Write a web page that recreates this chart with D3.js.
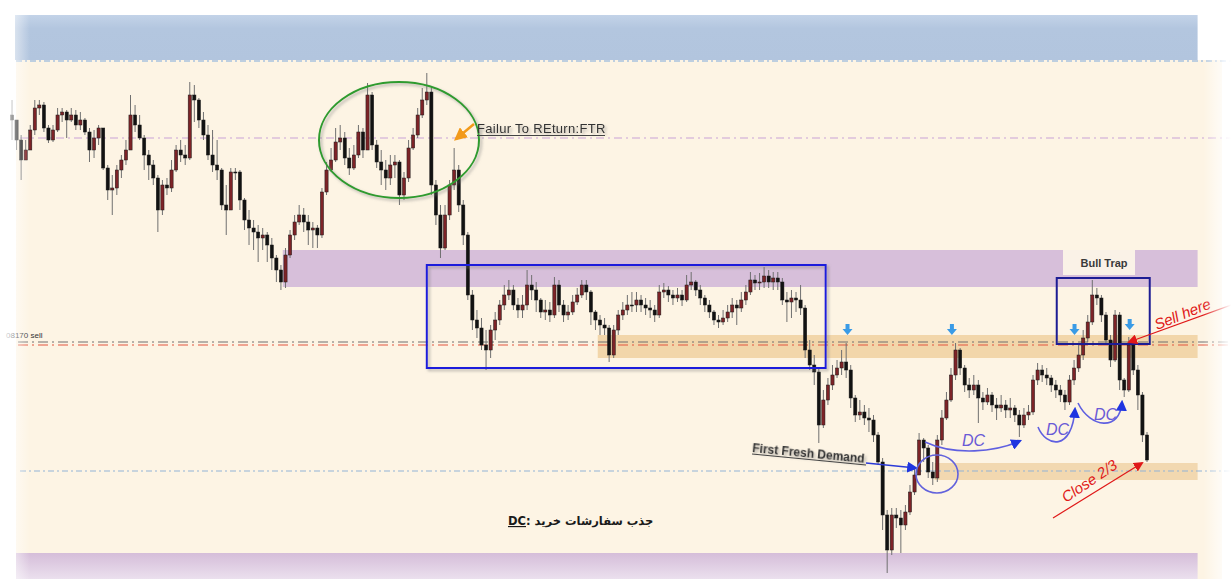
<!DOCTYPE html>
<html><head><meta charset="utf-8">
<script src="https://cdn.jsdelivr.net/npm/d3@7"></script>
<style>body{margin:0;background:#fff}svg{display:block}</style>
</head><body><svg id="c" width="1231" height="579"></svg>
<script>
// Prices are in points above 1.0000 (e.g. 817 = 1.0817)
const firstOpen = 1045;
const closes = [1040,1020,1000,1010,1030,1052,1055,1032,1020,1030,
1045,1048,1040,1045,1035,1040,1028,1010,1022,1032,
992,970,972,990,1000,1010,1045,1035,1022,1005,
995,982,950,975,972,990,1010,1005,1002,1065,
1060,1040,1025,1005,995,990,955,950,988,988,
960,940,932,928,922,925,915,902,890,878,
905,925,938,945,938,930,932,925,968,990,
1000,1018,1022,1002,992,1005,1028,1010,1065,1015,
998,990,982,995,998,965,982,1012,1025,1045,
1060,1068,975,945,912,945,975,990,955,925,
865,840,832,815,810,830,840,855,865,870,
855,850,855,875,870,860,848,850,845,875,
855,845,848,858,865,875,868,848,840,835,
832,805,830,845,850,855,855,860,855,852,
850,845,868,870,865,862,865,860,875,878,
870,862,855,848,840,838,842,848,855,852,
860,868,880,877,878,884,878,882,878,860,
858,862,860,852,810,795,788,735,760,775,
785,792,798,790,762,745,748,742,740,725,
698,645,610,645,642,635,648,668,685,720,
712,688,682,720,742,760,785,810,792,775,
770,775,762,758,765,755,752,755,750,752,
745,735,745,748,780,790,785,782,775,770,
765,758,780,792,805,822,838,865,862,845,
820,800,845,780,770,815,790,765,725,700];
const highs = [1060,1040,1025,1020,1035,1060,1060,1058,1035,1035,
1052,1052,1050,1052,1050,1048,1042,1032,1030,1035,
1032,995,985,995,1005,1020,1065,1055,1045,1025,
1010,1000,985,980,982,1000,1015,1020,1015,1078,
1075,1062,1048,1035,1030,1020,992,975,992,992,
990,962,950,940,935,932,928,922,905,895,
912,930,945,955,952,945,938,935,972,998,
1012,1032,1035,1028,1012,1015,1035,1032,1077,1068,
1020,1010,1000,1005,1005,1000,988,1020,1032,1052,
1072,1087,1072,980,955,955,980,1012,995,960,
928,870,850,842,830,835,848,860,875,880,
875,862,865,890,885,878,862,860,858,883,
880,860,855,865,872,880,880,870,850,845,
842,835,835,850,858,865,868,868,865,862,
860,855,875,877,874,870,872,870,885,888,
880,875,865,860,850,845,850,855,862,860,
868,875,888,885,887,893,890,888,888,882,
868,870,868,875,855,820,805,792,770,782,
795,800,810,817,795,765,760,755,752,745,
728,702,650,652,652,650,655,675,692,727,
722,715,698,725,750,768,792,817,812,795,
782,785,780,768,772,768,762,765,760,762,
755,750,752,755,785,797,795,792,785,780,
775,770,785,800,815,830,845,880,872,865,
848,825,850,848,782,823,818,795,768,728];
const lows = [1020,1010,980,1000,1010,1025,1045,1028,1017,1018,
1028,1038,1022,1038,1030,1030,1025,998,1002,1015,
990,960,945,965,982,995,1010,1028,1020,990,
980,975,928,945,965,968,988,998,995,1000,
1038,1032,1020,1000,988,980,950,925,950,980,
950,930,915,910,898,910,898,890,878,870,
872,902,920,935,928,915,912,912,922,965,
988,998,1010,995,985,990,1002,1002,1010,1010,
992,975,970,975,982,955,960,978,1010,1022,
1042,1055,965,935,902,910,940,970,948,915,
860,830,822,810,790,802,820,835,850,860,
850,842,842,850,860,848,842,840,838,842,
848,838,840,845,855,862,860,835,830,825,
825,798,802,825,840,845,848,848,848,845,
842,838,842,862,858,855,858,854,858,870,
864,855,848,842,835,832,835,838,842,835,
848,855,865,870,870,872,872,870,870,855,
838,842,848,845,802,790,775,717,732,755,
770,782,785,782,752,738,740,735,728,718,
695,630,587,605,632,607,630,645,665,685,
698,682,675,678,715,740,758,780,785,768,
762,765,737,750,755,748,740,748,742,742,
738,723,732,740,745,775,778,775,768,762,
758,750,755,775,788,800,818,835,855,838,
815,793,798,770,763,768,785,750,718,698];

// levels (price points) and extents (candle index units)
const blueBand = [1100, 1145];
const bottomBand = [581, 607];
const supplyZone = [873, 910];
const sellZone = [802, 825];
const demandZone = [680, 697];
const zoneStarts = [59.4, 128.5, 202.4];
const zoneEnd = 260.1;
const ftrLevel = 1022;
const ftrSpan = [52.2, 119.7];
const sellLevels = [818, 815];
const infoLevels = [1099, 689];
const rangeBox = [91, 178.5, 792, 895];
const trapBox = [229.2, 249.6, 816, 882];
const markIndex = [183.3, 206.2, 233.1, 245.2];
const markPrice = [830, 830, 830, 835];
const texts = {
  ftr: "Failur To REturn:FTR",
  trap: "Bull Trap",
  sell: "Sell here",
  close: "Close 2/3",
  demand: "First Fresh Demand",
  dc: "DC",
  note: "جذب سفارشات خرید",
  level: "08170 sell"
};

const svg = d3.select("#c");
const W = 1231, H = 579;
const x = d3.scaleLinear().domain([0, closes.length - 1]).range([12, 1147]);
const y = d3.scaleLinear().domain([581, 1160]).range([579, 0]);

const defs = svg.append("defs");
const sh = defs.append("filter").attr("id","sh").attr("x","-20%").attr("y","-20%").attr("width","140%").attr("height","160%");
sh.append("feDropShadow").attr("dx",2).attr("dy",2).attr("stdDeviation",1.5).attr("flood-color","#777").attr("flood-opacity",0.55);
function marker(id, color, size){
  defs.append("marker").attr("id",id).attr("viewBox","0 0 10 10").attr("refX",8).attr("refY",5)
    .attr("markerWidth",size).attr("markerHeight",size).attr("orient","auto").attr("markerUnits","userSpaceOnUse")
    .append("path").attr("d","M0,0 L10,5 L0,10 z").attr("fill",color);
}
marker("mBlue","#1f35e0",11);
marker("mRed","#e01818",10);
marker("mOrange","#f29a1a",13);
const lg = defs.append("linearGradient").attr("id","fadeL").attr("x1",0).attr("x2",1);
lg.append("stop").attr("offset",0).attr("stop-color","#fff").attr("stop-opacity",1);
lg.append("stop").attr("offset",1).attr("stop-color","#fff").attr("stop-opacity",0);
const rg = defs.append("linearGradient").attr("id","fadeR").attr("x1",0).attr("x2",1);
rg.append("stop").attr("offset",0).attr("stop-color","#fff").attr("stop-opacity",0);
rg.append("stop").attr("offset",1).attr("stop-color","#fff").attr("stop-opacity",1);
const bg = defs.append("linearGradient").attr("id","botG").attr("x1",0).attr("x2",0).attr("y1",0).attr("y2",1);
bg.append("stop").attr("offset",0).attr("stop-color","#d5bdd9");
bg.append("stop").attr("offset",1).attr("stop-color","#ebe0ee");
const tg = defs.append("linearGradient").attr("id","topG").attr("x1",0).attr("x2",0).attr("y1",0).attr("y2",1);
tg.append("stop").attr("offset",0).attr("stop-color","#c3d3e8");
tg.append("stop").attr("offset",0.3).attr("stop-color","#b3c6df");
tg.append("stop").attr("offset",1).attr("stop-color","#b2c5de");

// background
svg.append("rect").attr("width",W).attr("height",H).attr("fill","#fff");
svg.append("rect").attr("x",16).attr("y",y(blueBand[0])).attr("width",1206).attr("height",H - y(blueBand[0])).attr("fill","#fdf4e4");
svg.append("rect").attr("x",15).attr("y",y(blueBand[1])).attr("width",x(zoneEnd)-15).attr("height",y(blueBand[0])-y(blueBand[1])).attr("fill","url(#topG)");
svg.append("rect").attr("x",16).attr("y",y(bottomBand[1])).attr("width",x(zoneEnd)-16).attr("height",y(bottomBand[0])-y(bottomBand[1])).attr("fill","url(#botG)");

// zones
const zones = [[supplyZone,"#d7bfda",0],[sellZone,"#f2d6aa",1],[demandZone,"#f2d8b0",2]];
svg.selectAll("rect.zone").data(zones).join("rect").attr("class","zone")
  .attr("x",d=>x(zoneStarts[d[2]])).attr("width",d=>x(zoneEnd)-x(zoneStarts[d[2]]))
  .attr("y",d=>y(d[0][1])).attr("height",d=>y(d[0][0])-y(d[0][1])).attr("fill",d=>d[1]);

// level lines
svg.append("line").attr("x1",16).attr("x2",W).attr("y1",y(infoLevels[0])).attr("y2",y(infoLevels[0]))
  .attr("stroke","#7fa9dc").attr("stroke-width",1).attr("stroke-dasharray","6,3,2,3");
svg.append("line").attr("x1",20).attr("x2",W).attr("y1",y(infoLevels[1])).attr("y2",y(infoLevels[1]))
  .attr("stroke","#92b3d6").attr("stroke-width",1).attr("stroke-dasharray","6,3,2,3");
svg.append("line").attr("x1",20).attr("x2",W).attr("y1",y(ftrLevel)).attr("y2",y(ftrLevel))
  .attr("stroke","#c9a2d6").attr("stroke-width",1).attr("stroke-dasharray","8,4,2,4");
svg.append("line").attr("x1",18).attr("x2",W).attr("y1",y(sellLevels[0])).attr("y2",y(sellLevels[0]))
  .attr("stroke","#6e6e6e").attr("stroke-width",1.2).attr("stroke-dasharray","10,4,2,4");
svg.append("line").attr("x1",18).attr("x2",W).attr("y1",y(sellLevels[1])).attr("y2",y(sellLevels[1]))
  .attr("stroke","#e2553f").attr("stroke-width",1.2).attr("stroke-dasharray","10,4,2,4");
svg.append("text").attr("x",6).attr("y",y(sellLevels[0])-4).attr("font-family","Liberation Sans, Arial").attr("font-size",8)
  .attr("fill","#333").text(texts.level);

// candles
const candles = closes.map((c,i)=>{
  const o = i===0 ? firstOpen : closes[i-1];
  return {i, o, c, h: Math.max(highs[i], o, c), l: Math.min(lows[i], o, c)};
});
const cg = svg.append("g");
cg.selectAll("line").data(candles).join("line")
  .attr("x1",d=>x(d.i)).attr("x2",d=>x(d.i)).attr("y1",d=>y(d.h)).attr("y2",d=>y(d.l))
  .attr("stroke","#707070").attr("stroke-width",1);
cg.selectAll("rect").data(candles).join("rect")
  .attr("x",d=>x(d.i)-1.6).attr("width",3.2)
  .attr("y",d=>y(Math.max(d.o,d.c))).attr("height",d=>Math.max(1, Math.abs(y(d.o)-y(d.c))))
  .attr("fill",d=>d.c>d.o ? "#7d2327" : "#121212").attr("stroke","#1a1a1a").attr("stroke-width",0.5);

// FTR line
svg.append("line").attr("x1",x(ftrSpan[0])).attr("x2",x(ftrSpan[1])).attr("y1",y(ftrLevel)).attr("y2",y(ftrLevel))
  .attr("stroke","#d01212").attr("stroke-width",3).attr("filter","url(#sh)");

// green ellipse
svg.append("ellipse").attr("cx",399).attr("cy",140).attr("rx",80).attr("ry",58)
  .attr("fill","none").attr("stroke","#2f9b2f").attr("stroke-width",2).attr("filter","url(#sh)");
// orange arrow + FTR text
svg.append("line").attr("x1",474).attr("y1",124).attr("x2",456).attr("y2",139)
  .attr("stroke","#f29a1a").attr("stroke-width",2.5).attr("marker-end","url(#mOrange)");
svg.append("text").attr("x",477).attr("y",133).attr("font-family","Liberation Sans, Arial").attr("font-size",13)
  .attr("fill","#333").attr("letter-spacing",0.3).attr("filter","url(#sh)").text(texts.ftr);
svg.append("line").attr("x1",477).attr("x2",605).attr("y1",135.5).attr("y2",135.5).attr("stroke","#444").attr("stroke-width",1);

// boxes
svg.append("rect").attr("x",x(rangeBox[0])).attr("width",x(rangeBox[1])-x(rangeBox[0]))
  .attr("y",y(rangeBox[3])).attr("height",y(rangeBox[2])-y(rangeBox[3]))
  .attr("fill","none").attr("stroke","#1f1fdc").attr("stroke-width",2).attr("filter","url(#sh)");
svg.append("rect").attr("x",x(trapBox[0])).attr("width",x(trapBox[1])-x(trapBox[0]))
  .attr("y",y(trapBox[3])).attr("height",y(trapBox[2])-y(trapBox[3]))
  .attr("fill","none").attr("stroke","#1d1d94").attr("stroke-width",2);
svg.append("rect").attr("x",1063).attr("y",y(supplyZone[1])).attr("width",72).attr("height",25).attr("fill","#faf2e7");
svg.append("text").attr("x",1104).attr("y",267).attr("text-anchor","middle").attr("font-family","Liberation Sans, Arial")
  .attr("font-weight","bold").attr("font-size",11).attr("fill","#3a3a3a").text(texts.trap);

// small blue down arrows
svg.selectAll("path.dn").data(markIndex).join("path").attr("class","dn")
  .attr("d",(d,k)=>{const cx=x(d), cy=y(markPrice[k]); return `M${cx-2},${cy-6} h4 v5 h3 l-5,6 l-5,-6 h3 z`;})
  .attr("fill","#3a9be6");

// Sell here
svg.append("line").attr("x1",1231).attr("y1",305).attr("x2",1129).attr("y2",342)
  .attr("stroke","#e01818").attr("stroke-width",1.2).attr("marker-end","url(#mRed)");
svg.append("text").attr("transform","translate(1157,330) rotate(-22)").attr("font-family","Liberation Sans, Arial")
  .attr("font-style","italic").attr("font-size",15).attr("fill","#e01818").text(texts.sell);
// Close 2/3
svg.append("line").attr("x1",1053).attr("y1",518).attr("x2",1142).attr("y2",463)
  .attr("stroke","#e01818").attr("stroke-width",1.2).attr("marker-end","url(#mRed)");
svg.append("text").attr("transform","translate(1066,503) rotate(-34)").attr("font-family","Liberation Sans, Arial")
  .attr("font-style","italic").attr("font-size",15).attr("fill","#e01818").text(texts.close);

// First fresh demand
svg.append("text").attr("transform","translate(752,452) rotate(5.5)").attr("font-family","Liberation Sans, Arial")
  .attr("font-weight","bold").attr("font-size",12).attr("fill","#333").attr("filter","url(#sh)").text(texts.demand);
svg.append("line").attr("x1",752).attr("y1",454).attr("x2",866).attr("y2",465).attr("stroke","#444").attr("stroke-width",1);
svg.append("line").attr("x1",866).attr("y1",463).attr("x2",916).attr("y2",468)
  .attr("stroke","#2b3ad8").attr("stroke-width",1.5).attr("marker-end","url(#mBlue)");
svg.append("ellipse").attr("cx",937).attr("cy",474).attr("rx",21).attr("ry",19)
  .attr("fill","none").attr("stroke","#6262dc").attr("stroke-width",1.6);

// DC curves
const dcPaths = ["M925,442 C955,456 995,452 1020,441","M1038,427 C1046,447 1072,452 1075,409","M1078,403 C1090,428 1120,432 1122,402"];
svg.selectAll("path.dc").data(dcPaths).join("path").attr("class","dc").attr("d",d=>d)
  .attr("fill","none").attr("stroke","#5f5fe0").attr("stroke-width",1.6).attr("marker-end","url(#mBlue)");
const dcText = [[962,446],[1046,435],[1094,420]];
svg.selectAll("text.dc").data(dcText).join("text").attr("class","dc").attr("x",d=>d[0]).attr("y",d=>d[1])
  .attr("font-family","Liberation Sans, Arial").attr("font-style","italic").attr("font-size",16).attr("fill","#6a5ad6").text(texts.dc);

// Persian note
const note = svg.append("text").attr("x",508).attr("y",525).attr("font-family","DejaVu Sans").attr("font-weight","bold")
  .attr("font-size",11.5).attr("fill","#1a1a1a");
note.append("tspan").attr("text-decoration","underline").text(texts.dc);
note.append("tspan").text(": " + texts.note);

// edge fades
svg.append("rect").attr("x",0).attr("y",0).attr("width",30).attr("height",H).attr("fill","url(#fadeL)");
svg.append("rect").attr("x",1203).attr("y",0).attr("width",28).attr("height",H).attr("fill","url(#fadeR)");
</script></body></html>
